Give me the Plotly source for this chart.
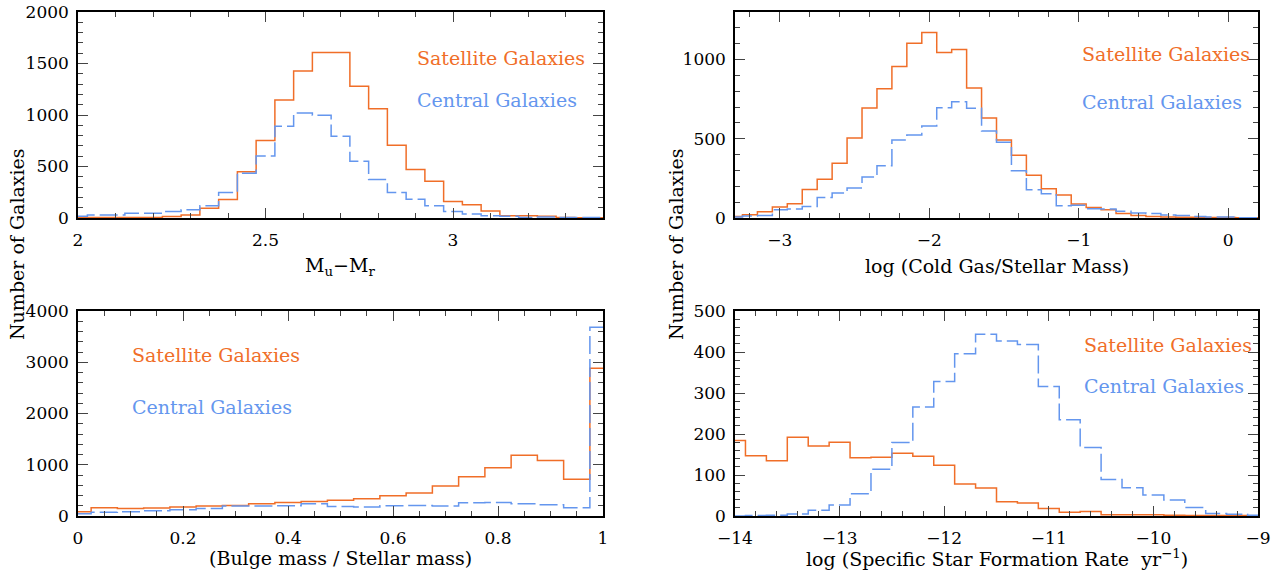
import plotly.graph_objects as go

# ---------------- data ----------------
# Panel 1: u-r colour, bin centres 2.00..3.40 step 0.05
color_x = [round(2.0 + 0.05 * i, 3) for i in range(29)]
color_sat = [5, 5, 5, 5, 5, 15, 30, 95, 180, 450, 752, 1145, 1428, 1608, 1608, 1280, 1061,
             707, 470, 357, 161, 129, 68, 22, 22, 16, 6, 3, 3]
color_cen = [16, 29, 29, 45, 45, 64, 80, 119, 248, 434, 601, 890, 1019, 997, 794, 550, 373,
             248, 183, 119, 64, 39, 22, 16, 6, 10, 6, 4, 4]

# Panel 2: log(cold gas / stellar mass), bin centres -3.3..0.2 step 0.1
gas_x = [round(-3.3 + 0.1 * i, 2) for i in range(36)]
gas_sat = [10, 21, 40, 69, 90, 180, 245, 346, 505, 694, 815, 956, 1103, 1170, 1044, 1063,
           820, 631, 493, 396, 270, 184, 145, 88, 67, 52, 29, 15, 10, 6, 4, 4, 3, 3, 2, 2]
gas_cen = [6, 13, 15, 52, 57, 73, 130, 157, 189, 258, 329, 493, 524, 581, 696, 734, 692,
           549, 478, 298, 178, 153, 78, 80, 59, 57, 42, 31, 29, 19, 15, 10, 6, 6, 2, 2]

# Panel 3: bulge / stellar mass, bin centres 0..1 step 0.05
bulge_x = [round(0.05 * i, 3) for i in range(21)]
bulge_sat = [84, 161, 148, 155, 174, 193, 206, 238, 264, 283, 309, 335, 393, 451, 586, 766,
             940, 1185, 1082, 715, 2885]
bulge_cen = [45, 71, 84, 103, 122, 148, 193, 193, 200, 238, 187, 174, 200, 206, 193, 258,
             264, 238, 219, 161, 3683]

# Panel 4: log sSFR, bin centres -14..-9 step 0.2
ssfr_x = [round(-14.0 + 0.2 * i, 2) for i in range(26)]
ssfr_sat = [184, 147, 135, 192, 171, 180, 142, 143, 153, 146, 124, 78, 68, 35, 32, 18, 9,
            11, 3, 3, 3, 2, 1, 1, 1, 0]
ssfr_cen = [0, 1, 2, 5, 14, 27, 54, 114, 179, 266, 328, 396, 443, 427, 418, 316, 235, 167,
            89, 69, 51, 39, 21, 6, 4, 2]

sat_label = "Satellite Galaxies"
cen_label = "Central Galaxies"
y_title = "Number of Galaxies"
x_titles = ["M<sub>u</sub>−M<sub>r</sub>", "log (Cold Gas/Stellar Mass)",
            "(Bulge mass / Stellar mass)", "log (Specific Star Formation Rate  yr<sup>−1</sup>)"]

# ---------------- style ----------------
W, H = 1278, 573
ORANGE = "#f06e28"
BLUE = "#6496ee"
FONT = "DejaVu Serif"

def px(x):
    return x / W

def py(y):
    return 1 - y / H

fig = go.Figure()

panels = [
    dict(x=color_x, s=color_sat, c=color_cen, xr=[2, 3.4], yr=[0, 2000], xd=0.5, xm=0.1, yd=500, ym=100,
         dom=(78, 603, 12, 218), ax=""),
    dict(x=gas_x, s=gas_sat, c=gas_cen, xr=[-3.3, 0.2], yr=[0, 1300], xd=1, xm=0.2, yd=500, ym=100,
         dom=(735, 1258, 12, 218), ax="2"),
    dict(x=bulge_x, s=bulge_sat, c=bulge_cen, xr=[0, 1], yr=[0, 4000], xd=0.2, xm=0.05, yd=1000, ym=200,
         dom=(78, 603, 311, 516), ax="3"),
    dict(x=ssfr_x, s=ssfr_sat, c=ssfr_cen, xr=[-14, -9], yr=[0, 500], xd=1, xm=0.2, yd=100, ym=20,
         dom=(735, 1258, 311, 516), ax="4"),
]

label_pos = [
    ((415, 58), (415, 100)),
    ((1080, 54), (1080, 102)),
    ((130, 355), (130, 407)),
    ((1082, 345), (1082, 386)),
]
xtitle_pos = [(340, 266), (997, 266), (340, 558), (997, 558)]

layout_axes = {}
annotations = []
for i, p in enumerate(panels):
    ax = p["ax"]
    xa = "x" + ax
    ya = "y" + ax
    fig.add_trace(go.Scatter(x=p["x"], y=p["s"], mode="lines", line=dict(shape="hvh", color=ORANGE, width=1.5),
                             xaxis=xa, yaxis=ya, showlegend=False, hoverinfo="skip"))
    fig.add_trace(go.Scatter(x=p["x"], y=p["c"], mode="lines",
                             line=dict(shape="hvh", color=BLUE, width=1.5, dash="18px,5px"),
                             xaxis=xa, yaxis=ya, showlegend=False, hoverinfo="skip"))
    x0, x1, y0, y1 = p["dom"]
    common = dict(showgrid=False, zeroline=False, showline=True, linecolor="black", linewidth=1.5,
                  mirror="allticks", ticks="inside", tickcolor="#444", tickwidth=1.2, automargin=False,
                  tickfont=dict(family=FONT, size=17, color="black"))
    layout_axes["xaxis" + ax] = dict(common, domain=[px(x0), px(x1)], range=p["xr"], anchor=ya,
                                     tick0=0, dtick=p["xd"], ticklen=10, ticklabelstandoff=6,
                                     minor=dict(ticks="inside", dtick=p["xm"], tick0=0, ticklen=5,
                                                tickcolor="#444", tickwidth=1.2),
                                     linewidth=2)
    layout_axes["yaxis" + ax] = dict(common, domain=[py(y1), py(y0)], range=p["yr"], anchor=xa,
                                     tick0=0, dtick=p["yd"], ticklen=10, ticklabelstandoff=4,
                                     minor=dict(ticks="inside", dtick=p["ym"], tick0=0, ticklen=5,
                                                tickcolor="#444", tickwidth=1.2))
    (sx, sy), (cx, cy) = label_pos[i]
    annotations.append(dict(x=px(sx), y=py(sy), xref="paper", yref="paper", text=sat_label, showarrow=False,
                            xanchor="left", yanchor="middle", font=dict(family=FONT, size=19, color=ORANGE)))
    annotations.append(dict(x=px(cx), y=py(cy), xref="paper", yref="paper", text=cen_label, showarrow=False,
                            xanchor="left", yanchor="middle", font=dict(family=FONT, size=19, color=BLUE)))
    tx, ty = xtitle_pos[i]
    annotations.append(dict(x=px(tx), y=py(ty), xref="paper", yref="paper", text=x_titles[i], showarrow=False,
                            xanchor="center", yanchor="middle", font=dict(family=FONT, size=19, color="black")))

for xpix in (17, 676):
    annotations.append(dict(x=px(xpix), y=py(244), xref="paper", yref="paper", text=y_title, showarrow=False,
                            textangle=-90, xanchor="center", yanchor="middle",
                            font=dict(family=FONT, size=19, color="black")))

fig.update_layout(width=W, height=H, margin=dict(l=0, r=0, t=0, b=0), plot_bgcolor="white",
                  paper_bgcolor="white", annotations=annotations, **layout_axes)

fig.write_html("out.html", config={"displayModeBar": False},
               post_script="document.body.style.margin='0';document.body.style.overflow='hidden';")
